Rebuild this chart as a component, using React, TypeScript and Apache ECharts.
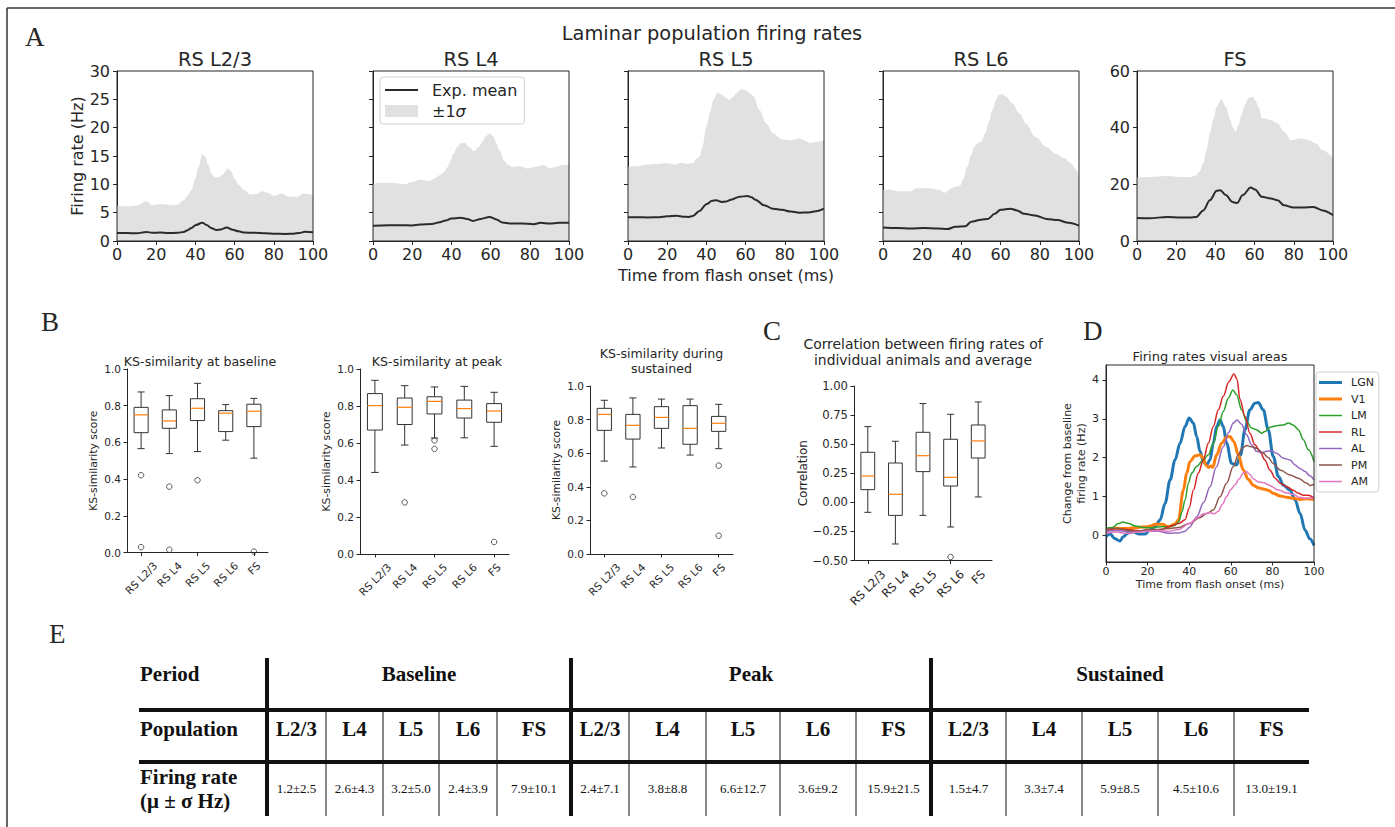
import React, { useEffect, useRef } from 'react';
import * as echarts from 'echarts';

const FONT = 'DejaVu Sans';
const SERIF = 'Liberation Serif';
const INK = '#262626';
const FILL = '#e1e1e1';

// ---------------- Panel A: laminar population firing rates ----------------
const laminarNames = ['RS L2/3', 'RS L4', 'RS L5', 'RS L6', 'FS'];
const laminarYMax = [30, 30, 30, 30, 60];
const laminarYStep = [5, 5, 5, 5, 20];

const l23Upper = [[0,6.2],[5,6.1],[10,6.2],[15,7.0],[18,6.3],[21,6.5],[24,6.5],[28,6.3],[31,6.4],[34,7.2],[36,8.0],[38,9.0],[40,11],[41.5,13],[43.5,15.3],[45,14.9],[46.5,13.5],[48,12],[50,11.2],[52,11.3],[54,11.8],[56.5,12.8],[58,12.4],[60,11.0],[62,9.9],[65,9.0],[68,8.2],[71,8.3],[74,8.8],[77,8.5],[80,8.0],[84,8.4],[88,7.8],[92,7.8],[95,8.4],[97,8.3],[100,8.1]];
const l23Mean = [[0,1.4],[5,1.4],[10,1.35],[15,1.6],[18,1.45],[22,1.5],[26,1.4],[31,1.45],[34,1.6],[36,1.9],[38,2.3],[40,2.8],[43.5,3.2],[46,2.8],[48,2.3],[50.5,1.95],[53,2.05],[56,2.4],[59,2.0],[62,1.7],[65,1.5],[70,1.45],[76,1.35],[80,1.3],[86,1.25],[90,1.3],[93,1.4],[96,1.65],[100,1.55]];
const l4Upper = [[0,10.1],[4,10.3],[8,10.3],[12,10.2],[16,10.0],[20,10.4],[24,10.8],[28.5,10.6],[31,11],[34,11.6],[36,12.1],[38,13],[39.5,14.2],[41,15.4],[43,16.6],[45,17.3],[47,17.3],[49,16.6],[51.5,15.9],[54,16.6],[56,17.6],[57.5,18.5],[59.5,19.0],[61.5,18.4],[63,17.2],[64.5,16.0],[67,14.1],[69,13.4],[71,13.1],[75,13.2],[79,12.8],[83,13.1],[87,13.4],[90,12.8],[93.5,13.1],[97,13.4],[100,13.5]];
const l4Mean = [[0,2.7],[8,2.8],[14,2.8],[20,2.75],[24,2.9],[30,3.0],[34,3.3],[37,3.6],[40,3.95],[44.5,4.1],[48,3.9],[51,3.55],[55,3.9],[59.5,4.25],[63,3.8],[66,3.25],[70,3.1],[76,3.1],[82,2.95],[85.5,3.2],[90,3.1],[95,3.2],[100,3.2]];
const l5Upper = [[0,13.1],[5,13.2],[10,13.5],[15,13.6],[20,13.7],[24,13.5],[27,13.8],[30,13.6],[33,13.7],[35,14.5],[36.5,14.9],[38,16.5],[40,20.2],[42,22.8],[43.5,24.9],[45.7,26.2],[48,25.8],[50,25.2],[51.8,24.9],[53.5,25.4],[55,26.0],[57.7,26.8],[60.5,26.6],[62,26.1],[64,25.5],[67,23.1],[70.7,20.7],[74,19.0],[78.6,17.9],[83,17.8],[87.5,18.1],[89.8,17.8],[93,17.3],[96.6,17.5],[100,17.8]];
const l5Mean = [[0,4.2],[5,4.2],[10,4.15],[16,4.2],[20,4.35],[25,4.45],[28,4.3],[31,4.25],[33,4.4],[36.5,5.3],[40,6.5],[43,7.1],[45,7.2],[48,6.9],[50,6.95],[52.5,7.3],[57,7.8],[61,7.95],[63,7.7],[65,7.3],[69.5,6.3],[74,5.7],[78.6,5.5],[83,5.2],[87.5,5.0],[92,5.05],[96.6,5.3],[100,5.7]];
const l6Upper = [[0,9.0],[3,9.1],[7.4,8.8],[14.3,8.8],[16.6,9.3],[23.5,9.3],[29,9.0],[31.6,8.5],[35,9.3],[38,9.6],[39.6,9.9],[41,11],[43,13.1],[45,15.2],[46.5,16.6],[48.5,17.3],[50,17.5],[52.3,19.0],[54,21],[55.8,23.1],[57.5,24.8],[59.2,25.8],[61,25.9],[62.7,25.5],[66,24.3],[69.6,22.5],[73,20.7],[77.6,18.4],[83.4,16.6],[88,15.4],[92.6,14.6],[96,13.7],[98,12.8],[100,11.6]];
const l6Mean = [[0,2.4],[7.4,2.3],[14.3,2.2],[21,2.3],[28,2.2],[32.7,2.1],[37,2.5],[42,2.6],[45,3.4],[50,3.75],[53.5,3.9],[57,4.8],[60,5.5],[65,5.7],[68.4,5.4],[72,4.8],[77.6,4.5],[83.4,3.9],[89,3.7],[94.7,3.2],[100,2.7]];
const fsUpper = [[0,22.4],[6.2,22.6],[15.4,22.9],[22.3,22.6],[27,22.6],[30.3,23.2],[32,24.5],[33.8,27.4],[35.5,32],[37.2,38.0],[39,43],[40.7,47.4],[43,50.0],[45.3,47.4],[47.6,42.7],[49,40],[50.3,38.6],[51.8,41],[53.3,44.5],[55,48],[56.8,50.4],[59,50.9],[60.5,49.5],[61.8,47.4],[64,43.3],[68.3,42.7],[71.7,41.5],[75,38.6],[78.6,35.6],[83.2,36.2],[87.8,35.6],[91.3,34.4],[94.7,32.1],[100,29.1]];
const fsMean = [[0,8.1],[6.2,8.0],[15.4,8.5],[22.3,8.3],[27,8.3],[30.3,8.5],[33.8,10.8],[37.2,14.4],[40.7,17.7],[42.5,17.9],[45.3,16.2],[48.7,13.8],[51,13.4],[54,16.2],[58,18.9],[60.2,18.2],[63.7,15.6],[68.3,15.0],[71.7,14.4],[75,12.6],[79.8,11.8],[84.4,11.8],[90,12.0],[94.7,10.8],[100,9.1]];
const laminarUpper = [l23Upper, l4Upper, l5Upper, l6Upper, fsUpper];
const laminarMean = [l23Mean, l4Mean, l5Mean, l6Mean, fsMean];

// ---------------- Panels B & C: box plots ----------------
const boxCategories = ['RS L2/3', 'RS L4', 'RS L5', 'RS L6', 'FS'];
// each row: [lower whisker, Q1, median, Q3, upper whisker]
const ksBaseline = [[0.566,0.653,0.75,0.791,0.875],[0.539,0.677,0.717,0.777,0.855],[0.55,0.719,0.786,0.838,0.922],[0.612,0.659,0.759,0.773,0.806],[0.514,0.686,0.77,0.808,0.84]];
const ksBaselineOutliers = [[0,0.421],[0,0.029],[1,0.359],[1,0.015],[2,0.394],[4,0.005]];
const ksPeak = [[0.441,0.67,0.802,0.867,0.939],[0.589,0.70,0.793,0.843,0.91],[0.627,0.757,0.825,0.85,0.903],[0.628,0.735,0.786,0.832,0.906],[0.582,0.712,0.773,0.813,0.874]];
const ksPeakOutliers = [[1,0.279],[2,0.614],[2,0.568],[4,0.065]];
const ksSustained = [[0.553,0.736,0.831,0.867,0.915],[0.518,0.684,0.766,0.831,0.929],[0.631,0.748,0.813,0.877,0.922],[0.589,0.653,0.748,0.883,0.922],[0.627,0.73,0.778,0.819,0.891]];
const ksSustainedOutliers = [[0,0.361],[1,0.339],[4,0.526],[4,0.109]];
const corrStats = [[-0.086,0.109,0.226,0.43,0.651],[-0.358,-0.112,0.069,0.338,0.525],[-0.112,0.264,0.401,0.602,0.849],[-0.212,0.14,0.215,0.542,0.757],[0.046,0.381,0.528,0.665,0.863]];
const corrOutliers = [[3,-0.47]];

// ---------------- Panel D: visual areas ----------------
const areaNames = ['LGN', 'V1', 'LM', 'RL', 'AL', 'PM', 'AM'];
const areaColors = ['#1f77b4', '#ff7f0e', '#2ca02c', '#d62728', '#9467bd', '#8c564b', '#e377c2'];
const lgnRate = [[0,-0.04],[2,0.03],[4.3,-0.09],[6.7,-0.15],[8.3,-0.04],[10.7,0.06],[13,0.09],[16,0.03],[18.8,0.03],[21,0.13],[23.6,0.22],[26,0.39],[28.4,0.82],[30.8,1.42],[33.2,1.94],[35.6,2.37],[38,2.8],[40,3.02],[42,2.89],[43.6,2.54],[45.2,2.16],[46.8,1.9],[48.4,1.81],[50,1.94],[51.6,2.37],[53.2,2.8],[54.8,2.97],[56.4,2.8],[58,2.37],[60.4,1.85],[62.8,1.81],[64.7,2.07],[66.8,2.72],[69.2,3.23],[71.6,3.4],[73.2,3.42],[75.6,3.23],[78,2.72],[80.4,2.03],[82.9,1.51],[85.3,1.29],[88.5,1.16],[90.9,0.91],[93.3,0.56],[95.7,0.13],[98,-0.09],[100,-0.26]];
const v1Rate = [[0,0.15],[5,0.18],[10,0.17],[15,0.2],[20,0.22],[24,0.28],[27,0.28],[30,0.22],[33,0.28],[34.8,0.39],[37.2,1.16],[38.8,1.6],[40.4,1.9],[42.8,2.04],[45.2,2.07],[46.8,1.98],[48,1.81],[49.2,1.75],[50.3,1.78],[51.3,1.75],[53.2,2.07],[55.6,2.37],[58,2.53],[59.6,2.54],[61.5,2.41],[63.6,2.07],[66,1.68],[68.4,1.44],[70.8,1.29],[73.2,1.22],[75.6,1.19],[78,1.16],[80.4,1.08],[83.7,1.01],[86.9,0.98],[90,0.95],[93.3,0.92],[96.5,0.94],[100,0.92]];
const lmRate = [[0,0.18],[3,0.2],[6,0.3],[8,0.34],[11,0.3],[14,0.24],[18,0.2],[22,0.19],[26,0.22],[30,0.22],[33,0.25],[35,0.35],[36.5,0.6],[38,0.9],[39.6,1.34],[41.2,1.6],[43.6,1.77],[46.8,1.94],[49.2,2.07],[51.6,2.37],[54,2.8],[56.4,3.19],[58.8,3.53],[61,3.74],[62.8,3.62],[65.2,3.23],[67.6,2.93],[70,2.76],[72.4,2.72],[74.8,2.63],[76.4,2.67],[78.8,2.78],[82,2.82],[85.3,2.84],[87.7,2.89],[90,2.84],[92.5,2.72],[94.9,2.46],[97.3,2.2],[100,1.9]];
const rlRate = [[0,0.1],[5,0.17],[10,0.15],[15,0.12],[20,0.1],[25,0.1],[30,0.22],[35,0.3],[38,0.4],[40,0.7],[42,1.16],[44.4,1.6],[46.8,1.94],[49.2,2.37],[51.6,2.8],[54,3.23],[56.4,3.58],[59,3.95],[61.5,4.15],[63,4.02],[64.4,3.5],[66.8,3.06],[69.2,2.63],[71.6,2.33],[74,2.16],[76.4,1.94],[78.8,1.68],[81.3,1.47],[83.7,1.34],[86.9,1.25],[90,1.16],[92.5,1.08],[94.9,1.03],[97.3,1.03],[100,0.95]];
const alRate = [[0,0.1],[5,0.12],[10,0.1],[15,0.08],[20,0.12],[25,0.1],[30,0.05],[35,0.06],[38,0.1],[40,0.2],[43.6,0.47],[47,0.85],[50,1.25],[53,1.75],[56.4,2.28],[59,2.65],[61.2,2.89],[63,2.97],[65.2,2.86],[67.6,2.59],[70,2.33],[72.4,2.16],[74.8,2.13],[77.2,2.16],[79.6,2.18],[82,2.11],[85.3,1.98],[88.5,1.94],[90.9,1.81],[93.3,1.72],[95.7,1.64],[98,1.53],[100,1.42]];
const pmRate = [[0,0.15],[5,0.18],[10,0.13],[15,0.1],[20,0.15],[25,0.15],[30,0.17],[35,0.2],[40,0.3],[45,0.45],[48.4,0.56],[51.6,0.65],[54.8,0.99],[58,1.34],[61.2,1.77],[63.6,2.07],[65.5,2.25],[67.6,2.31],[70,2.28],[72.4,2.24],[75.6,2.11],[78,2.0],[80.4,1.85],[83.7,1.68],[88.5,1.55],[92.5,1.47],[96.5,1.34],[98,1.28],[100,1.31]];
const amRate = [[0,0.05],[5,0.08],[10,0.05],[15,0.08],[20,0.1],[25,0.12],[30,0.1],[35,0.15],[40,0.3],[44,0.45],[47,0.55],[50,0.58],[52,0.55],[54,0.62],[56,0.8],[58,1.0],[60,1.18],[62,1.3],[64,1.45],[66,1.6],[67.5,1.64],[69,1.57],[71,1.45],[73,1.38],[76,1.35],[78,1.3],[80,1.25],[82,1.18],[84,1.15],[86,1.1],[88,1.08],[90,1.05],[93,0.98],[96,0.95],[100,0.95]];
const areaRates = [lgnRate, v1Rate, lmRate, rlRate, alRate, pmRate, amRate];
const areaWidths = [3, 3, 1.5, 1.5, 1.5, 1.5, 1.5];

// ---------------- Panel E: table ----------------
const tablePeriods = ['Baseline', 'Peak', 'Sustained'];
const tablePopulations = ['L2/3', 'L4', 'L5', 'L6', 'FS'];
const baselineRates = ['1.2±2.5', '2.6±4.3', '3.2±5.0', '2.4±3.9', '7.9±10.1'];
const peakRates = ['2.4±7.1', '3.8±8.8', '6.6±12.7', '3.6±9.2', '15.9±21.5'];
const sustainedRates = ['1.5±4.7', '3.3±7.4', '5.9±8.5', '4.5±10.6', '13.0±19.1'];
const tableRates = [baselineRates, peakRates, sustainedRates];

// ---------------- helpers ----------------
let measureCtx: any = null;
function textWidth(s: string, size: number) {
  if (!measureCtx) measureCtx = document.createElement('canvas').getContext('2d');
  measureCtx.font = `${size}px "${FONT}"`;
  return measureCtx.measureText(s).width;
}

// legend icon: a filled band of thickness t (drawn over width dw) inside a w x h box
function bandIcon(w: number, h: number, dw: number, t: number) {
  const y0 = (h - t) / 2;
  const y1 = (h + t) / 2;
  return `path://M0,0 L0.001,0 Z M0,${y0} L${dw},${y0} L${dw},${y1} L0,${y1} Z M${w},${h} L${w - 0.001},${h} Z`;
}

function renderBox(params: any, api: any) {
  const i = api.value(0);
  const pLo = api.coord([i, api.value(1)]);
  const pQ1 = api.coord([i, api.value(2)]);
  const pMd = api.coord([i, api.value(3)]);
  const pQ3 = api.coord([i, api.value(4)]);
  const pHi = api.coord([i, api.value(5)]);
  const band = api.size([1, 0])[0];
  const bw = band * 0.5;
  const cw = band * 0.25;
  const x = pLo[0];
  const st = { stroke: '#333', lineWidth: 1, fill: 'none' };
  return {
    type: 'group',
    children: [
      { type: 'line', shape: { x1: x, y1: pLo[1], x2: x, y2: pQ1[1] }, style: st },
      { type: 'line', shape: { x1: x, y1: pQ3[1], x2: x, y2: pHi[1] }, style: st },
      { type: 'line', shape: { x1: x - cw / 2, y1: pLo[1], x2: x + cw / 2, y2: pLo[1] }, style: st },
      { type: 'line', shape: { x1: x - cw / 2, y1: pHi[1], x2: x + cw / 2, y2: pHi[1] }, style: st },
      { type: 'rect', shape: { x: x - bw / 2, y: pQ3[1], width: bw, height: pQ1[1] - pQ3[1] }, style: st },
      { type: 'line', shape: { x1: x - bw / 2, y1: pMd[1], x2: x + bw / 2, y2: pMd[1] }, style: { stroke: '#ff7f0e', lineWidth: 1.2 } },
    ],
  };
}

function catLabelSeries(axisIdx: number, yMin: number, fontSize: number) {
  return {
    type: 'custom',
    xAxisIndex: axisIdx,
    yAxisIndex: axisIdx,
    silent: true,
    clip: false,
    z: 5,
    data: boxCategories.map((c, i) => [i, yMin]),
    renderItem: (params: any, api: any) => {
      const p = api.coord([api.value(0), api.value(1)]);
      const name = boxCategories[params.dataIndex];
      const w = textWidth(name, fontSize);
      const h = fontSize * 1.15;
      const cy = p[1] + 7 + 0.3536 * (w + h);
      return {
        type: 'text',
        x: p[0],
        y: cy,
        rotation: Math.PI / 4,
        style: {
          text: name, fontSize, fontFamily: FONT, fill: INK,
          align: 'center', verticalAlign: 'middle', textAlign: 'center', textVerticalAlign: 'middle',
        },
      };
    },
  };
}

function txt(x: number, y: number, text: string, size: number, opts: any = {}) {
  return {
    type: 'text', x, y, silent: true,
    style: {
      text, fontSize: size, fontFamily: opts.family || FONT, fontWeight: opts.weight || 'normal',
      fill: opts.fill || INK,
      align: opts.align || 'center', textAlign: opts.align || 'center',
      verticalAlign: opts.valign || 'middle', textVerticalAlign: opts.valign || 'middle',
    },
  };
}
function seg(x1: number, y1: number, x2: number, y2: number, w: number, color = '#111') {
  return { type: 'line', silent: true, shape: { x1, y1, x2, y2 }, style: { stroke: color, lineWidth: w } };
}

function buildOption() {
  const grid: any[] = [];
  const xAxis: any[] = [];
  const yAxis: any[] = [];
  const series: any[] = [];
  const axisCommon = {
    axisLine: { show: true, onZero: false, lineStyle: { color: INK, width: 1 } },
    splitLine: { show: false },
  };

  // ---- Panel A
  const aLefts = [117, 373, 628, 883, 1137];
  laminarNames.forEach((nm, i) => {
    grid.push({ left: aLefts[i], top: 71, width: 196, height: 170, show: true, borderColor: INK, borderWidth: 1, z: 10 });
    xAxis.push({
      gridIndex: i, type: 'value', min: 0, max: 100, interval: 20, ...axisCommon,
      axisTick: { show: true, length: 4, lineStyle: { color: INK } },
      axisLabel: { fontSize: 16, color: INK, fontFamily: FONT, margin: 5 },
      ...(i === 2 ? { name: 'Time from flash onset (ms)', nameLocation: 'middle', nameGap: 26, nameTextStyle: { fontSize: 16, color: INK, fontFamily: FONT } } : {}),
    });
    yAxis.push({
      gridIndex: i, type: 'value', min: 0, max: laminarYMax[i], interval: laminarYStep[i], ...axisCommon,
      axisTick: { show: true, length: 4, lineStyle: { color: INK } },
      axisLabel: { show: i === 0 || i === 4, fontSize: 16, color: INK, fontFamily: FONT, margin: 7 },
      ...(i === 0 ? { name: 'Firing rate (Hz)', nameLocation: 'middle', nameGap: 31, nameTextStyle: { fontSize: 16, color: INK, fontFamily: FONT } } : {}),
    });
    series.push({
      name: '±1σ', type: 'line', xAxisIndex: i, yAxisIndex: i, data: laminarUpper[i],
      smooth: 0.35, smoothMonotone: 'x', symbol: 'none', showSymbol: false,
      lineStyle: { width: 0, opacity: 0 }, itemStyle: { color: FILL },
      areaStyle: { color: FILL, opacity: 1 }, z: 1, silent: true,
    });
    series.push({
      name: 'Exp. mean', type: 'line', xAxisIndex: i, yAxisIndex: i, data: laminarMean[i],
      smooth: 0.35, smoothMonotone: 'x', symbol: 'none', showSymbol: false,
      lineStyle: { width: 2, color: '#2b2b2b' }, itemStyle: { color: '#2b2b2b' }, z: 3, silent: true,
    });
  });

  // ---- Panels B & C
  const boxPanels = [
    { left: 127, top: 369, width: 141, height: 183.5, min: 0, max: 1, step: 0.2, stats: ksBaseline, out: ksBaselineOutliers, name: 'KS-similarity score', gap: 28, fs: 10.5, dec: 1 },
    { left: 360, top: 369, width: 149, height: 185, min: 0, max: 1, step: 0.2, stats: ksPeak, out: ksPeakOutliers, name: 'KS-similarity score', gap: 28, fs: 10.5, dec: 1 },
    { left: 590, top: 386, width: 143, height: 168, min: 0, max: 1, step: 0.2, stats: ksSustained, out: ksSustainedOutliers, name: 'KS-similarity score', gap: 28, fs: 10.5, dec: 1 },
    { left: 854, top: 386, width: 138, height: 174.5, min: -0.5, max: 1, step: 0.25, stats: corrStats, out: corrOutliers, name: 'Correlation', gap: 44, fs: 11.6, dec: 2 },
  ];
  boxPanels.forEach((bp, k) => {
    const idx = 5 + k;
    grid.push({ left: bp.left, top: bp.top, width: bp.width, height: bp.height });
    xAxis.push({
      gridIndex: idx, type: 'category', data: boxCategories, boundaryGap: true, ...axisCommon,
      axisTick: { show: true, alignWithLabel: true, length: 3.5, lineStyle: { color: INK } },
      axisLabel: { show: false },
    });
    yAxis.push({
      gridIndex: idx, type: 'value', min: bp.min, max: bp.max, interval: bp.step, ...axisCommon,
      axisTick: { show: true, length: 3.5, lineStyle: { color: INK } },
      axisLabel: {
        fontSize: bp.fs, color: INK, fontFamily: FONT, margin: 6,
        formatter: (v: number) => (v < 0 ? '−' + Math.abs(v).toFixed(bp.dec) : v.toFixed(bp.dec)),
      },
      name: bp.name, nameLocation: 'middle', nameGap: bp.gap,
      nameTextStyle: { fontSize: bp.fs + (k === 3 ? 0.4 : 0.3), color: INK, fontFamily: FONT },
    });
    series.push({
      type: 'custom', xAxisIndex: idx, yAxisIndex: idx, silent: true, z: 3,
      data: bp.stats.map((s, i) => [i, ...s]),
      encode: { x: 0, y: [1, 2, 3, 4, 5] },
      renderItem: renderBox,
    });
    series.push({
      type: 'scatter', xAxisIndex: idx, yAxisIndex: idx, silent: true, z: 4,
      data: bp.out, symbol: 'circle', symbolSize: 5.5,
      itemStyle: { color: 'rgba(255,255,255,0)', borderColor: '#333', borderWidth: 1 },
    });
    series.push(catLabelSeries(idx, bp.min, bp.fs));
  });

  // ---- Panel D
  grid.push({ left: 1106, top: 365, width: 208, height: 197, show: true, borderColor: INK, borderWidth: 1, z: 10 });
  xAxis.push({
    gridIndex: 9, type: 'value', min: 0, max: 100, interval: 20, ...axisCommon,
    axisTick: { show: true, length: 3.5, lineStyle: { color: INK } },
    axisLabel: { fontSize: 11, color: INK, fontFamily: FONT, margin: 4 },
    name: 'Time from flash onset (ms)', nameLocation: 'middle', nameGap: 17,
    nameTextStyle: { fontSize: 11, color: INK, fontFamily: FONT },
  });
  yAxis.push({
    gridIndex: 9, type: 'value', min: -0.69, max: 4.385, splitNumber: 5, ...axisCommon,
    axisTick: { show: true, length: 3.5, lineStyle: { color: INK } },
    axisLabel: { fontSize: 11, color: INK, fontFamily: FONT, margin: 7, showMinLabel: false, showMaxLabel: false },
    name: 'Change from baseline\nfiring rate (Hz)', nameLocation: 'middle', nameGap: 14,
    nameTextStyle: { fontSize: 11, color: INK, fontFamily: FONT, lineHeight: 14 },
  });
  areaNames.forEach((nm, i) => {
    series.push({
      name: nm, type: 'line', xAxisIndex: 9, yAxisIndex: 9, data: areaRates[i],
      smooth: 0.35, smoothMonotone: 'x', symbol: 'none', showSymbol: false, silent: true,
      lineStyle: { width: areaWidths[i], color: areaColors[i] }, itemStyle: { color: areaColors[i] }, z: 3 + i * 0.01,
    });
  });

  // ---- Graphic: frame, labels, titles, table
  const g: any[] = [];
  g.push(seg(7, 8, 1395, 8, 1.5, '#333'));
  g.push(seg(7, 8, 7, 827, 1.5, '#333'));
  const panelLetters = [['A', 25, 37], ['B', 41, 322], ['C', 763, 331], ['D', 1083, 331], ['E', 49, 634]];
  panelLetters.forEach(([t, x, y]: any) => g.push(txt(x, y, t, 27, { family: SERIF, align: 'left' })));

  g.push(txt(712, 33, 'Laminar population firing rates', 19.4));
  laminarNames.forEach((nm, i) => g.push(txt(aLefts[i] + 98, 59, nm, 19.4)));
  g.push(txt(200, 361, 'KS-similarity at baseline', 12.6));
  g.push(txt(437, 361, 'KS-similarity at peak', 12.6));
  g.push(txt(661.5, 353, 'KS-similarity during', 12.6));
  g.push(txt(661.5, 368, 'sustained', 12.6));
  g.push(txt(923, 344, 'Correlation between firing rates of', 13.9));
  g.push(txt(923, 360, 'individual animals and average', 13.9));
  g.push(txt(1210, 356, 'Firing rates visual areas', 13));

  // table
  const colX = [267, 326, 383, 439, 497, 571, 629, 706, 780, 856, 931, 1006, 1082, 1158, 1234, 1309];
  const bold = { family: SERIF, weight: 'bold', fill: '#111' };
  g.push(seg(139, 710, 1309, 710, 4));
  g.push(seg(139, 762, 1309, 762, 4));
  colX.forEach((x, c) => {
    if (c === 0 || c === 5 || c === 10) g.push(seg(x, 658, x, 816, 4));
    else if (c < colX.length - 1) g.push(seg(x, 712, x, 816, 1));
  });
  g.push(txt(140, 674, 'Period', 21, { ...bold, align: 'left' }));
  g.push(txt(140, 729, 'Population', 21, { ...bold, align: 'left' }));
  g.push(txt(140, 777, 'Firing rate', 21, { ...bold, align: 'left' }));
  g.push(txt(140, 801, '(μ ± σ Hz)', 21, { ...bold, align: 'left' }));
  tablePeriods.forEach((p, k) => {
    g.push(txt((colX[k * 5] + colX[k * 5 + 5]) / 2, 674, p, 21, bold));
    tablePopulations.forEach((pop, j) => {
      const c = k * 5 + j;
      const cx = (colX[c] + colX[c + 1]) / 2;
      g.push(txt(cx, 729, pop, 21, bold));
      g.push(txt(cx, 788, tableRates[k][j], 13, { family: SERIF, fill: '#111' }));
    });
  });

  return {
    animation: false,
    backgroundColor: '#ffffff',
    grid, xAxis, yAxis, series,
    legend: [
      {
        orient: 'vertical', left: 380, top: 77,
        data: [{ name: 'Exp. mean', icon: bandIcon(42, 12, 33, 2) }, { name: '±1σ', icon: bandIcon(42, 12, 33, 12) }],
        itemWidth: 42, itemHeight: 12, itemGap: 5, selectedMode: false,
        formatter: (n: string) => (n === '±1σ' ? '±1{it|σ}' : n),
        textStyle: { fontSize: 16, color: INK, fontFamily: FONT, rich: { it: { fontStyle: 'italic', fontSize: 16, fontFamily: FONT, color: INK } } },
        borderColor: '#d0d0d0', borderWidth: 1, borderRadius: 3, padding: [5, 7, 5, 5], backgroundColor: 'rgba(255,255,255,0.8)',
      },
      {
        orient: 'vertical', left: 1316, top: 372,
        data: areaNames.map((n, i) => ({ name: n, icon: bandIcon(27, 10, 23, areaWidths[i]) })),
        itemWidth: 27, itemHeight: 10, itemGap: 5.5, selectedMode: false,
        textStyle: { fontSize: 11, color: INK, fontFamily: FONT },
        borderColor: '#d0d0d0', borderWidth: 1, borderRadius: 3, padding: [5, 5, 5, 3], backgroundColor: 'rgba(255,255,255,0.8)',
      },
    ],
    graphic: { elements: g },
  };
}

export default function App() {
  const ref = useRef<HTMLDivElement>(null);
  useEffect(() => {
    document.body.style.margin = '0';
    const chart = echarts.init(ref.current as HTMLDivElement, null, { renderer: 'svg', width: 1395, height: 827 });
    chart.setOption(buildOption() as any);
    return () => chart.dispose();
  }, []);
  return <div ref={ref} style={{ width: 1395, height: 827 }} />;
}
